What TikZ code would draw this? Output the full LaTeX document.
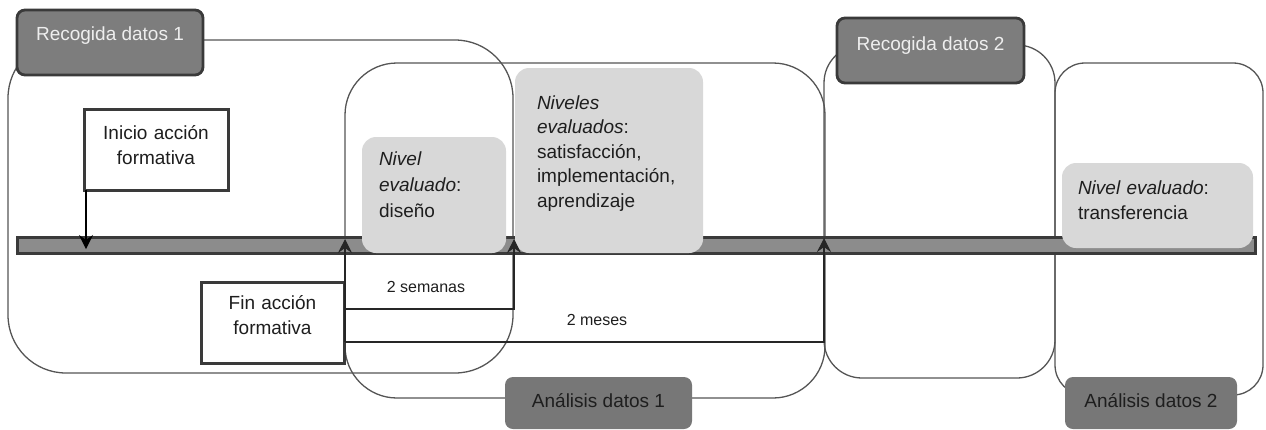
\documentclass[tikz,border=0pt]{standalone}
\usepackage{fontspec}
\setmainfont{Liberation Sans}
\usetikzlibrary{arrows.meta}
\definecolor{framec}{HTML}{555555}
\definecolor{darkfill}{HTML}{7D7D7D}
\definecolor{anfill}{HTML}{777777}
\definecolor{darkedge}{HTML}{3A3A3A}
\definecolor{lightfill}{HTML}{D8D8D8}
\definecolor{barfill}{HTML}{8C8C8C}
\definecolor{textdark}{HTML}{1E1E1E}
\definecolor{textlight}{HTML}{EEEEEE}
\begin{document}
\begin{tikzpicture}[x=1pt,y=-1pt,
  frame/.style={draw=framec, line width=1.3pt},
  bigfont/.style={font=\fontsize{19}{25}\selectfont},
  recbox/.style={bigfont, draw=darkedge, line width=2.8pt, fill=darkfill, rounded corners=8pt, inner sep=0pt, outer sep=0pt, text=textlight, anchor=north west},
  anbox/.style={bigfont, fill=anfill, rounded corners=8pt, inner sep=0pt, outer sep=0pt, text=textdark, anchor=north west},
  evalbox/.style={fill=lightfill, rounded corners=14pt, inner ysep=0pt, outer sep=0pt, align=left, anchor=north west, text=textdark},
  eventbox/.style={bigfont, draw=darkedge, line width=3pt, fill=white, inner sep=0pt, outer sep=0pt, align=center, text width=130pt, anchor=north west, text=textdark},
  smalllabel/.style={font=\fontsize{16}{20}\selectfont, text=textdark},
  uparrow/.style={draw=black!85, line width=1.1pt, -{Stealth[length=14pt,width=14pt,inset=5pt]}},
  downarrow/.style={draw=black, line width=1.2pt, -{Stealth[length=14pt,width=14pt,inset=5pt]}},
]
\useasboundingbox (0,0) rectangle (1266,429);

% frames
\draw[frame, rounded corners=58pt] (8,40) rectangle (513,373);
\draw[frame, rounded corners=52pt] (345,63) rectangle (825,398);
\draw[frame, rounded corners=38pt] (824,45) rectangle (1055,378);
\draw[frame, rounded corners=30pt] (1055,63) rectangle (1263,395);

% timeline bar
\draw[fill=barfill, draw=darkedge, line width=3pt] (17,237) rectangle (1255,253);

% evaluated levels
\node[evalbox, font=\fontsize{19}{26}\selectfont, inner xsep=17pt, text width=110pt, text height=28pt, text depth=88pt] (diseno) at (362,137)
  {\textit{Nivel}\\\textit{evaluado}:\\diseño};
\node[evalbox, font=\fontsize{19}{24.5}\selectfont, inner xsep=22pt, text width=144pt, text height=41pt, text depth=144pt] (niveles) at (515,68)
  {\textit{Niveles}\\\textit{evaluados}:\\satisfacción,\\implementación,\\aprendizaje};
\node[evalbox, font=\fontsize{19}{25}\selectfont, inner xsep=16pt, text width=159pt, text height=31pt, text depth=54pt] (transf) at (1062,163)
  {\textit{Nivel evaluado}:\\transferencia};

% event boxes
\node[eventbox, minimum width=144pt, text height=30pt, text depth=51pt] (inicio) at (84,109) {Inicio acción\\formativa};
\node[eventbox, minimum width=143pt, text height=27pt, text depth=54pt] (fin) at (201,282) {Fin acción\\formativa};

% connectors
\coordinate (t0) at (86,249);
\coordinate (t1) at (345,239);
\coordinate (t2) at (514,239);
\coordinate (t3) at (824,238);
\coordinate (h1) at (345,309);
\coordinate (h2) at (345,342);
\draw[downarrow] (inicio.south west -| t0) -- (t0);
\draw[uparrow] (h2) -- (t1);
\draw[uparrow] (h1) -| (t2);
\draw[uparrow] (h2) -| (t3);

\node[smalllabel] (sem) at (426,287) {2 semanas};
\node[smalllabel] (mes) at (597,320) {2 meses};

% data collection / analysis boxes
\node[recbox, minimum width=186pt, text height=30pt, text depth=35pt] (rec1) at (17,10) {Recogida datos 1};
\node[recbox, minimum width=187pt, text height=32pt, text depth=33pt] (rec2) at (837,18) {Recogida datos 2};
\node[anbox, minimum width=187pt, text height=30pt, text depth=22pt] (an1) at (505,377) {Análisis datos 1};
\node[anbox, minimum width=172pt, text height=30pt, text depth=22pt] (an2) at (1065,377) {Análisis datos 2};
\end{tikzpicture}
\end{document}
